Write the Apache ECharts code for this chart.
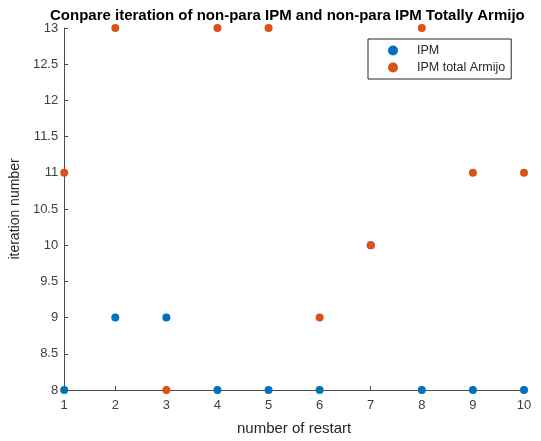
<!DOCTYPE html>
<html><head><meta charset="utf-8">
<script src="https://cdn.jsdelivr.net/npm/echarts@6/dist/echarts.min.js"></script>
<style>html,body{margin:0;padding:0;background:#fff}#c{width:541px;height:441px}</style>
</head><body><div id="c"></div>
<script>
const restarts = [1,2,3,4,5,6,7,8,9,10];
const ipm = [8,9,9,8,8,8,10,8,8,8];
const ipmArmijo = [11,13,8,13,13,9,10,13,11,11];
const titleText = 'Conpare iteration of non-para IPM and non-para IPM Totally Armijo';
const seriesNames = ['IPM','IPM total Armijo'];

const chart = echarts.init(document.getElementById('c'));
const font = 'Liberation Sans, Arial, sans-serif';
const axisCol = '#4d4d4d';
chart.setOption({
  animation:false,
  backgroundColor:'#fff',
  title:{text:titleText,left:45,top:3,textStyle:{fontFamily:font,fontSize:15,fontWeight:'bold',color:'#000'}},
  legend:{orient:'vertical',left:368,top:39,itemWidth:10,itemHeight:10,itemGap:4,
    padding:[5,6,5,20],borderColor:'#262626',borderWidth:1,backgroundColor:'#fff',
    textStyle:{fontFamily:font,fontSize:12.5,color:'#262626',padding:[0,0,0,14]},
    data:seriesNames.map(n=>({name:n,icon:'circle'}))},
  grid:{left:63,right:17,top:28,bottom:50},
  xAxis:{type:'value',min:1,max:10,interval:1,name:'number of restart',nameLocation:'middle',nameGap:31,
    nameTextStyle:{fontFamily:font,fontSize:15,color:'#262626'},
    axisLine:{lineStyle:{color:axisCol}},axisTick:{inside:true,length:4,lineStyle:{color:axisCol}},
    axisLabel:{fontFamily:font,fontSize:13,color:'#404040',margin:9},splitLine:{show:false}},
  yAxis:{type:'value',min:8,max:13,interval:0.5,name:'iteration number',nameLocation:'middle',nameGap:37,
    nameTextStyle:{fontFamily:font,fontSize:14,color:'#262626'},
    axisLine:{show:true,lineStyle:{color:axisCol}},axisTick:{show:true,inside:true,length:4,lineStyle:{color:axisCol}},
    axisLabel:{fontFamily:font,fontSize:13,color:'#404040',margin:6},splitLine:{show:false}},
  series:[
    {name:seriesNames[0],type:'scatter',symbolSize:8,clip:false,itemStyle:{color:'#0072BD',opacity:1},
      data:restarts.map((x,i)=>[x,ipm[i]])},
    {name:seriesNames[1],type:'scatter',symbolSize:8,clip:false,itemStyle:{color:'#D95319',opacity:1},
      data:restarts.map((x,i)=>[x,ipmArmijo[i]])}
  ]
});
</script></body></html>
